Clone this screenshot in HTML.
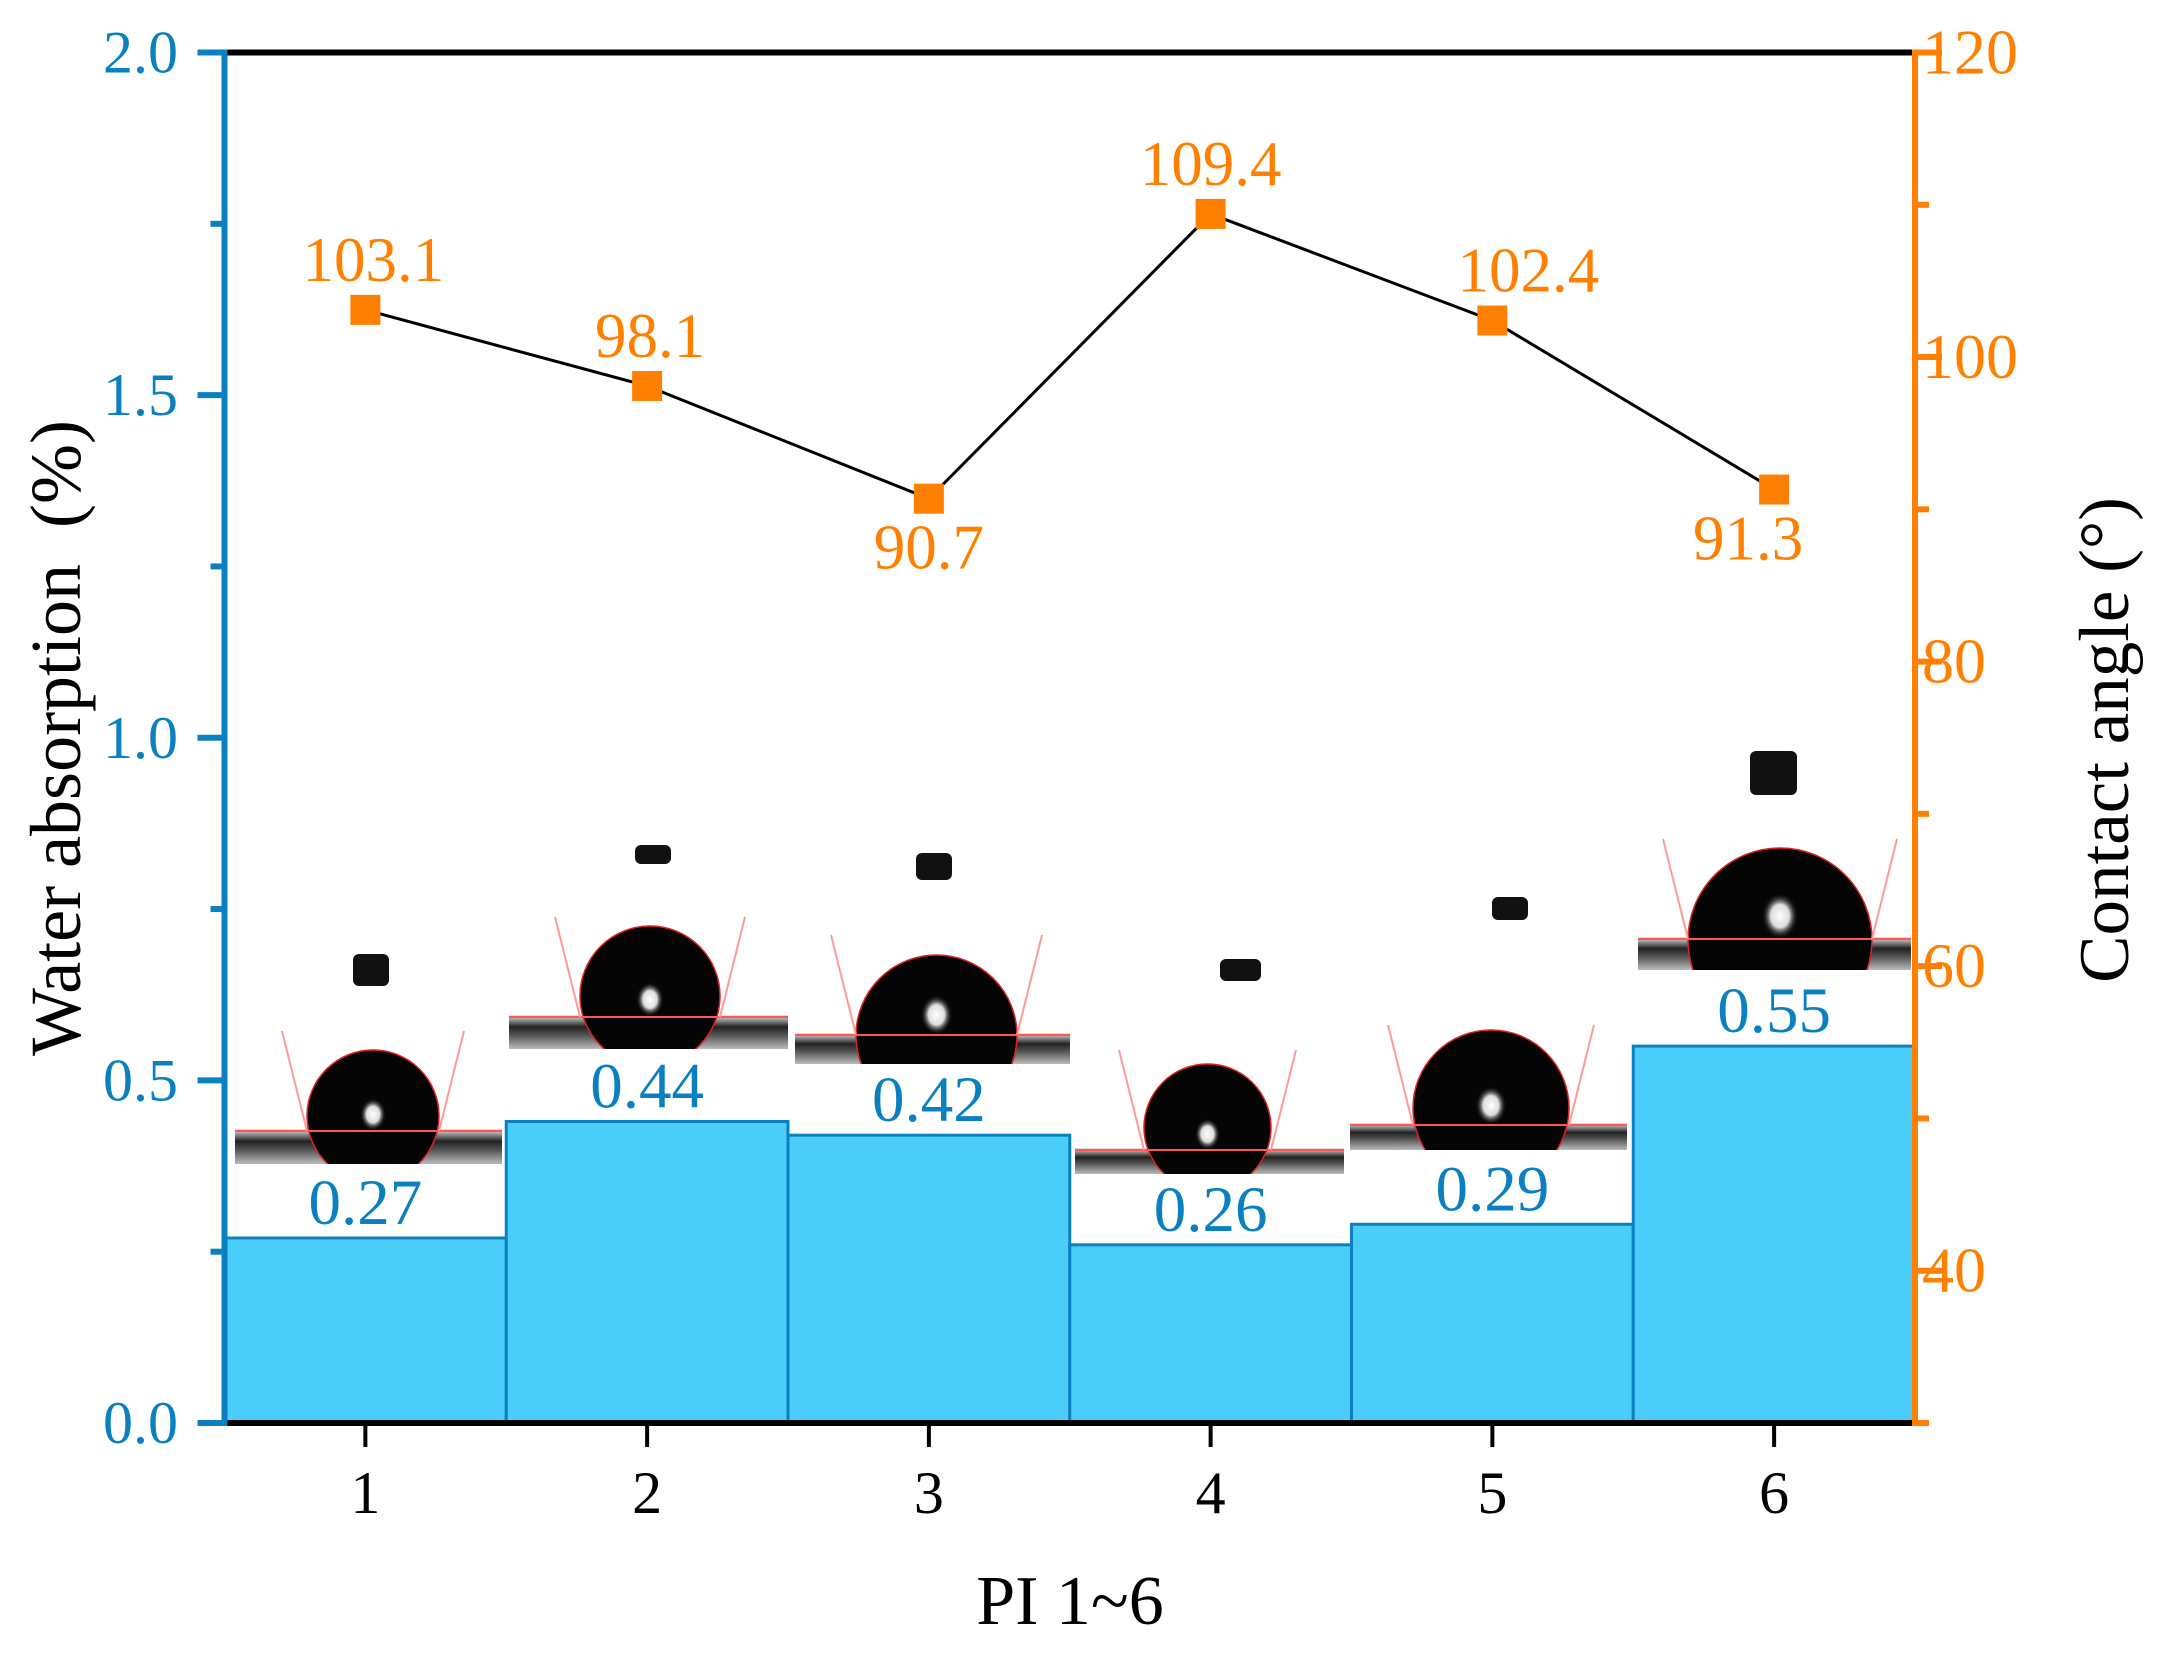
<!DOCTYPE html>
<html><head><meta charset="utf-8"><style>
html,body{margin:0;padding:0;background:#fff}
svg{display:block;font-family:"Liberation Serif",serif}
</style></head><body>
<svg id="chart" width="2164" height="1658" viewBox="0 0 2164 1658" xmlns="http://www.w3.org/2000/svg">
<defs>
<linearGradient id="strip" x1="0" y1="0" x2="0" y2="1">
<stop offset="0" stop-color="#e8e8e8"/><stop offset="0.35" stop-color="#222"/><stop offset="0.6" stop-color="#555"/><stop offset="1" stop-color="#bbb"/>
</linearGradient>
<radialGradient id="glint" cx="0.5" cy="0.5" r="0.5"><stop offset="0" stop-color="#fff"/><stop offset="0.5" stop-color="#ddd"/><stop offset="1" stop-color="#000" stop-opacity="0"/></radialGradient>
</defs>
<g id="bars"></g>
<g id="drops"></g>
<g id="axes"></g>
<g id="line"></g>
</svg>
<script>
const categories = [1, 2, 3, 4, 5, 6];
const waterAbsorption = [0.27, 0.44, 0.42, 0.26, 0.29, 0.55];
const contactAngle = [103.1, 98.1, 90.7, 109.4, 102.4, 91.3];
const leftTicks = [0.0, 0.5, 1.0, 1.5, 2.0];
const rightTicks = [40, 60, 80, 100, 120];

const NS = "http://www.w3.org/2000/svg";
const L = 224.5, R = 1915, T = 52.5, B = 1423;
const BLUE = "#0A80C0", ORANGE = "#FF8000";
const xs = v => L + (v - 0.5) / 6 * (R - L);
const yL = v => B - v / 2 * (B - T);
const yR = v => B - (v - 30) / 90 * (B - T);
function mk(tag, attrs, parent, text) {
  const e = document.createElementNS(NS, tag);
  for (const k in attrs) e.setAttribute(k, attrs[k]);
  if (text !== undefined) e.textContent = text;
  parent.appendChild(e);
  return e;
}
const gBars = document.getElementById('bars');
categories.forEach((c, i) => {
  const x0 = xs(c - 0.5), x1 = xs(c + 0.5), y = yL(waterAbsorption[i]);
  const r = mk('rect', {x: x0, y: y, width: x1 - x0, height: B - y, fill: '#4BCDF9', stroke: BLUE, 'stroke-width': 3}, gBars);
  
  
  const t = mk('text', {x: xs(c), y: y - 14, 'text-anchor': 'middle', 'font-size': 65, fill: BLUE}, gBars, waterAbsorption[i].toFixed(2));
  
  
});

const drops = [
  {sx:235, ex:502, base:1131, bot:1164, dx:307, dw:132, top:1050, nx:353, nw:36, ny:954, nh:32},
  {sx:509, ex:788, base:1017, bot:1049, dx:580, dw:140, top:926, nx:635, nw:36, ny:845, nh:19},
  {sx:795, ex:1070, base:1035, bot:1064, dx:856, dw:161, top:955, nx:916, nw:36, ny:853, nh:27},
  {sx:1075, ex:1344, base:1150, bot:1174, dx:1144, dw:127, top:1064, nx:1220, nw:41, ny:959, nh:22},
  {sx:1350, ex:1627, base:1125, bot:1150, dx:1413, dw:156, top:1030, nx:1492, nw:36, ny:897, nh:23},
  {sx:1638, ex:1911, base:939, bot:970, dx:1688, dw:184, top:848, nx:1750, nw:47, ny:751, nh:44}
];
const gD = document.getElementById('drops');
drops.forEach((d, i) => {
  const g = mk('g', {}, gD);
  
  
  const cpEl = mk('clipPath', {id: 'cp' + i}, g);
  mk('rect', {x: d.sx, y: d.top - 5, width: d.ex - d.sx, height: d.bot - d.top + 5}, cpEl);
  mk('rect', {x: d.sx, y: d.base - 2, width: d.ex - d.sx, height: d.bot - d.base + 2, fill: 'url(#strip)'}, g);
  const rx = d.dw / 2, cx = d.dx + rx;
  mk('ellipse', {cx: cx, cy: d.top + rx, rx: rx, ry: rx, fill: '#050505', stroke: '#d22', 'stroke-width': 1.5, 'clip-path': 'url(#cp' + i + ')'}, g);
  mk('ellipse', {cx: cx, cy: d.base - rx * 0.25, rx: rx * 0.2, ry: rx * 0.25, fill: 'url(#glint)'}, g);
  mk('line', {x1: d.sx, y1: d.base, x2: d.ex, y2: d.base, stroke: '#f55', 'stroke-width': 2}, g);
  mk('line', {x1: d.dx, y1: d.base, x2: d.dx - 25, y2: d.base - 100, stroke: '#f99', 'stroke-width': 2}, g);
  mk('line', {x1: d.dx + d.dw, y1: d.base, x2: d.dx + d.dw + 25, y2: d.base - 100, stroke: '#f99', 'stroke-width': 2}, g);
  mk('rect', {x: d.nx, y: d.ny, width: d.nw, height: d.nh, rx: 6, fill: '#111'}, g);
});

const gA = document.getElementById('axes');
function line(x1, y1, x2, y2, c, w, name) {
  const l = mk('line', {x1, y1, x2, y2, stroke: c, 'stroke-width': w}, gA);
  
  
}
line(L - 3, T, R + 3, T, '#000', 6, 'top-axis');
line(L - 3, B, R, B, '#000', 6, 'x-axis');
line(L, T - 3, L, B + 3, BLUE, 6, 'left-y-axis');
line(R, T - 3, R, B + 3, ORANGE, 6, 'right-y-axis');
for (let v = 0; v <= 2.001; v += 0.25) {
  const major = Math.abs(v * 2 - Math.round(v * 2)) < 1e-6;
  line(L - (major ? 27 : 14), yL(v), L, yL(v), BLUE, 6, 'left-tick');
}
leftTicks.forEach(v => {
  const t = mk('text', {x: 178, y: yL(v) + 20, 'text-anchor': 'end', 'font-size': 60, fill: BLUE}, gA, v.toFixed(1));
  
  
});
for (let v = 30; v <= 120; v += 10) {
  const major = v % 20 === 0;
  line(R, yR(v), R + (major ? 27 : 14), yR(v), ORANGE, 6, 'right-tick');
}
rightTicks.forEach(v => {
  const t = mk('text', {x: 1922, y: yR(v) + 21, 'font-size': 64, fill: ORANGE}, gA, String(v));
  
  
});
categories.forEach(c => {
  line(xs(c), B, xs(c), B + 24, '#000', 4, 'x-tick');
  const t = mk('text', {x: xs(c), y: 1513, 'text-anchor': 'middle', 'font-size': 60, fill: '#000'}, gA, String(c));
  
  
});
let t = mk('text', {x: 1070, y: 1624, 'text-anchor': 'middle', 'font-size': 70, fill: '#000'}, gA, 'PI 1~6');


t = mk('text', {x: 0, y: 0, transform: 'translate(80,738) rotate(-90)', 'text-anchor': 'middle', 'font-size': 72, fill: '#000'}, gA, 'Water absorption\u00A0\u00A0(%)');


t = mk('text', {x: 0, y: 0, transform: 'translate(2128,740) rotate(-90)', 'text-anchor': 'middle', 'font-size': 71, fill: '#000'}, gA, 'Contact angle (°)');



const gL = document.getElementById('line');
const pts = categories.map((c, i) => xs(c) + ',' + yR(contactAngle[i])).join(' ');
const pl = mk('polyline', {points: pts, fill: 'none', stroke: '#000', 'stroke-width': 3}, gL);


const labDx = [8, 3, 0, 0, 36, -26];
const labBelow = [false, false, true, false, false, true];
categories.forEach((c, i) => {
  const x = xs(c), y = yR(contactAngle[i]);
  const m = mk('rect', {x: x - 15, y: y - 15, width: 30, height: 30, fill: ORANGE}, gL);
  
  
  const lb = mk('text', {x: x + labDx[i], y: labBelow[i] ? y + 70 : y - 29, 'text-anchor': 'middle', 'font-size': 63, fill: ORANGE}, gL, contactAngle[i].toFixed(1));
  
  
});
</script>
</body></html>
